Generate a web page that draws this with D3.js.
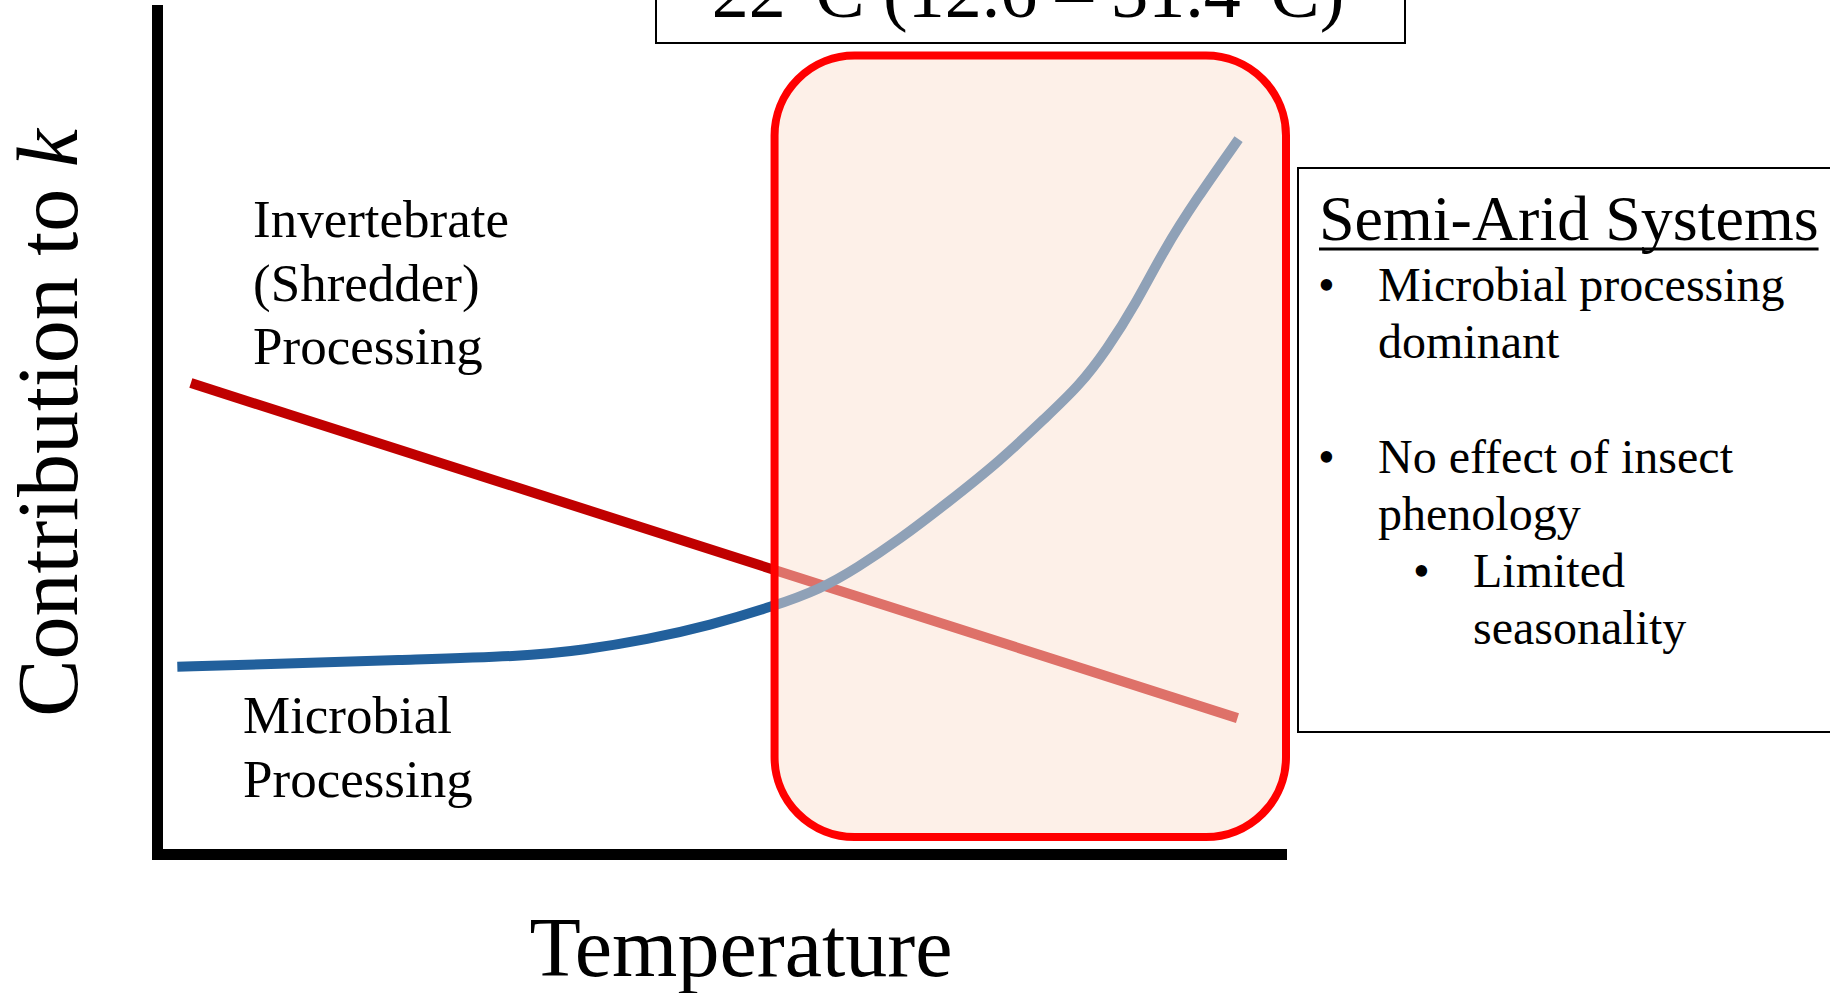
<!DOCTYPE html>
<html>
<head>
<meta charset="utf-8">
<script src="https://cdn.jsdelivr.net/npm/d3@7"></script>
<style>
  body { margin: 0; background: #fff; }
  svg text { font-family: "Liberation Serif", "Times New Roman", serif; fill: #000; }
</style>
</head>
<body>
<svg id="chart"></svg>
<script>
// conceptual chart: temperature (0-100 arbitrary units) vs contribution to k
const microbialTemp = [1.8, 10.4, 21.4, 32.4, 37.9, 43.4, 49.0, 54.5, 58.8, 62.0, 65.8, 69.9, 74.7, 78.7, 81.7, 84.1, 86.7, 89.2, 92.0, 95.8]
const microbialK = [22.2, 22.5, 23.0, 23.4, 24.2, 25.4, 27.1, 29.3, 31.4, 33.9, 37.3, 41.5, 46.6, 51.7, 55.5, 59.7, 65.2, 71.6, 77.5, 84.7]
const shredderTemp = [3.0, 95.7]
const shredderK = [55.8, 16.1]
const semiAridRange = [54.7, 100]   // highlighted temperature window
const semiAridK = [2, 94.6]

const rangeTitle = "22°C (12.6 – 31.4°C)"
const shredderLabel = ["Invertebrate", "(Shredder)", "Processing"]
const microbialLabel = ["Microbial", "Processing"]
const panelTitle = "Semi-Arid Systems"
const panelLines = [
  {level: 1, bullet: true, text: "Microbial processing"},
  {level: 1, bullet: false, text: "dominant"},
  {level: 1, bullet: true, text: "No effect of insect", gap: true},
  {level: 1, bullet: false, text: "phenology"},
  {level: 2, bullet: true, text: "Limited"},
  {level: 2, bullet: false, text: "seasonality"}
]

const width = 1830
const height = 993

const svg = d3.select("#chart")
    .attr("width", width)
    .attr("height", height)

let xScale = d3.scaleLinear()
    .domain([0, 100])
    .range([157, 1286])

let yScale = d3.scaleLinear()
    .domain([0, 100])
    .range([854, 10])

// lines go under the shaded window
let line = d3.line()
    .x(d => xScale(d[0]))
    .y(d => yScale(d[1]))

svg.append("path")
    .datum(d3.zip(shredderTemp, shredderK))
    .attr("d", line)
    .attr("fill", "none")
    .attr("stroke", "#c00000")
    .attr("stroke-width", 10)

svg.append("path")
    .datum(d3.zip(microbialTemp, microbialK))
    .attr("d", line.curve(d3.curveBasis))
    .attr("fill", "none")
    .attr("stroke", "#22609c")
    .attr("stroke-width", 10)

// semi-arid window
svg.append("rect")
    .attr("x", xScale(semiAridRange[0]))
    .attr("y", yScale(semiAridK[1]))
    .attr("width", xScale(semiAridRange[1]) - xScale(semiAridRange[0]))
    .attr("height", yScale(semiAridK[0]) - yScale(semiAridK[1]))
    .attr("rx", 80)
    .attr("ry", 80)
    .attr("fill", "rgb(251,225,209)")
    .attr("fill-opacity", 0.5)
    .attr("stroke", "#ff0000")
    .attr("stroke-width", 8)

// axes, no ticks, heavy domain lines
svg.append("g")
    .attr("transform", `translate(0,${yScale(0)})`)
    .call(d3.axisBottom(xScale.copy().range([157, 1281])).ticks(0).tickSizeOuter(0))
    .select(".domain")
    .attr("stroke", "#000")
    .attr("stroke-width", 11)
    .attr("stroke-linecap", "square")

svg.append("g")
    .attr("transform", `translate(${xScale(0)},0)`)
    .call(d3.axisLeft(yScale).ticks(0).tickSizeOuter(0))
    .select(".domain")
    .attr("stroke", "#000")
    .attr("stroke-width", 11)
    .attr("stroke-linecap", "square")

svg.append("text")
    .attr("x", 741)
    .attr("y", 976)
    .attr("text-anchor", "middle")
    .style("font-size", "84px")
    .text("Temperature")

let yLab = svg.append("text")
    .attr("transform", "translate(77,423) rotate(-90)")
    .attr("text-anchor", "middle")
    .style("font-size", "86px")
yLab.append("tspan").text("Contribution to ")
yLab.append("tspan").style("font-style", "italic").text("k")

// curve labels
svg.append("g").selectAll("text")
    .data(shredderLabel)
    .join("text")
    .attr("x", 253)
    .attr("y", (d, i) => 237 + i * 63.5)
    .style("font-size", "53px")
    .text(d => d)

svg.append("g").selectAll("text")
    .data(microbialLabel)
    .join("text")
    .attr("x", 243)
    .attr("y", (d, i) => 733 + i * 63.5)
    .style("font-size", "53px")
    .text(d => d)

// temperature range box at top (cut by the page edge)
svg.append("rect")
    .attr("x", 656)
    .attr("y", -20)
    .attr("width", 749)
    .attr("height", 63)
    .attr("fill", "#fff")
    .attr("stroke", "#000")
    .attr("stroke-width", 2)

svg.append("text")
    .attr("x", 1028)
    .attr("y", 17)
    .attr("text-anchor", "middle")
    .style("font-size", "74px")
    .text(rangeTitle)

// side panel
svg.append("rect")
    .attr("x", 1298)
    .attr("y", 168)
    .attr("width", 600)
    .attr("height", 564)
    .attr("fill", "#fff")
    .attr("stroke", "#000")
    .attr("stroke-width", 2)

let title = svg.append("text")
    .attr("x", 1319)
    .attr("y", 240)
    .style("font-size", "64px")
    .text(panelTitle)
let tw = title.node().getComputedTextLength()
svg.append("line")
    .attr("x1", 1319)
    .attr("x2", 1319 + tw)
    .attr("y1", 249)
    .attr("y2", 249)
    .attr("stroke", "#000")
    .attr("stroke-width", 3)

let yPos = 301
panelLines.forEach((d, i) => {
    if (i > 0) yPos += d.gap ? 115 : 57
    let bx = d.level === 1 ? 1318 : 1413
    let tx = d.level === 1 ? 1378 : 1473
    if (d.bullet) {
        svg.append("text")
            .attr("x", bx)
            .attr("y", yPos)
            .style("font-size", "48px")
            .text("•")
    }
    svg.append("text")
        .attr("x", tx)
        .attr("y", yPos)
        .style("font-size", "48px")
        .text(d.text)
})
</script>
</body>
</html>
